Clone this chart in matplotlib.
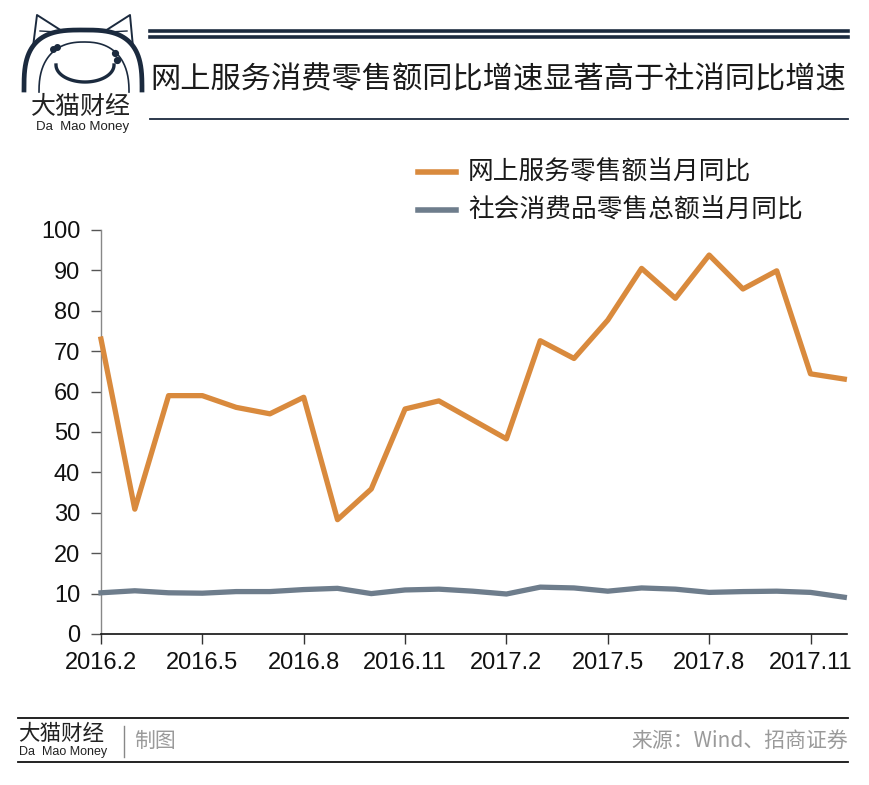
import numpy as np
import matplotlib
matplotlib.use("Agg")
import matplotlib.pyplot as plt

plt.rcParams['font.family'] = ['Noto Sans CJK SC', 'DejaVu Sans']

# ---------------- data ----------------
months = ["2016.2", "2016.3", "2016.4", "2016.5", "2016.6", "2016.7", "2016.8",
          "2016.9", "2016.10", "2016.11", "2016.12", "2017.1", "2017.2", "2017.3",
          "2017.4", "2017.5", "2017.6", "2017.7", "2017.8", "2017.9", "2017.10",
          "2017.11", "2017.12"]
online_service = [73.0, 30.9, 59.0, 59.0, 56.1, 54.5, 58.6, 28.3, 35.9, 55.7,
                  57.7, 53.0, 48.3, 72.6, 68.2, 77.7, 90.5, 83.1, 93.8, 85.4,
                  89.9, 64.4, 63.1]
retail_total = [10.2, 10.7, 10.2, 10.1, 10.5, 10.5, 11.0, 11.3, 10.0, 10.9,
                11.1, 10.6, 9.9, 11.6, 11.4, 10.6, 11.4, 11.1, 10.3, 10.5,
                10.6, 10.3, 9.1]
series_names = ["网上服务零售额当月同比", "社会消费品零售总额当月同比"]
title = "网上服务消费零售额同比增速显著高于社消同比增速"
yticks = [0, 10, 20, 30, 40, 50, 60, 70, 80, 90, 100]

ORANGE = "#D98A3D"
SLATE = "#6E7D8C"
NAVY = "#1B2A3E"

W, H = 870, 785
fig = plt.figure(figsize=(W / 100, H / 100), dpi=100)
fig.patch.set_facecolor("white")

# ---------------- main axes ----------------
L, R, T, B = 101, 847, 230, 634
ax = fig.add_axes([L / W, 1 - B / H, (R - L) / W, (B - T) / H])
x = np.arange(len(months))
ax.plot(x, online_service, color=ORANGE, lw=3.8, clip_on=False, zorder=3)
ax.plot(x, retail_total, color=SLATE, lw=3.8, clip_on=False, zorder=3)
ax.set_xlim(0, len(months) - 1 + 0.08)
ax.set_ylim(0, 100)
ax.set_yticks(yticks)
ax.set_xticks(x[::3])
ax.set_xticklabels(months[::3])
for s in ["top", "right"]:
    ax.spines[s].set_visible(False)
ax.spines["left"].set_color("#888888")
ax.spines["left"].set_linewidth(1.0)
ax.spines["bottom"].set_color("#111111")
ax.spines["bottom"].set_linewidth(1.2)
ax.tick_params(axis="y", length=7, width=1.0, color="#555555", pad=8,
               labelsize=17, labelcolor="#111111")
ax.tick_params(axis="x", length=7, width=1.0, color="#333333", pad=6,
               labelsize=17, labelcolor="#111111")
for lab in ax.get_xticklabels() + ax.get_yticklabels():
    lab.set_family(["Liberation Sans", "DejaVu Sans"])

# ---------------- overlay for decorations (pixel coords) ----------------
ov = fig.add_axes([0, 0, 1, 1], zorder=-1)
ov.set_xlim(0, W)
ov.set_ylim(H, 0)
ov.axis("off")

# header lines + title
ov.plot([150, 848], [31, 31], color=NAVY, lw=2.6)
ov.plot([150, 848], [37, 37], color=NAVY, lw=2.6)
ov.plot([150, 848], [119, 119], color=NAVY, lw=1.3)
ttl = fig.text(150 / W, 1 - 80 / H, title, fontsize=22, color="#1a1a1a",
               ha="left", va="center")
fig.canvas.draw()
wpx = ttl.get_window_extent().width
ttl.set_fontsize(22 * 694 / wpx)


def dome(cx, cy, rx, ry, n):
    tt = np.linspace(np.pi, 0, 160)
    c, s = np.cos(tt), np.sin(tt)
    return (cx + rx * np.sign(c) * np.abs(c) ** (2 / n),
            cy - ry * np.abs(s) ** (2 / n))


# logo
hx, hy = dome(83, 90, 59, 60, 3.0)
ov.plot(hx, hy, color=NAVY, lw=3.4)
ix, iy = dome(84, 92, 45, 50, 2.4)
ov.plot(ix, iy, color=NAVY, lw=1.2)
ov.plot([33, 37, 62], [47, 15, 31], color=NAVY, lw=1.4)
ov.plot([40, 58], [31, 32], color=NAVY, lw=1.0)
ov.plot([105, 130, 133], [31, 15, 47], color=NAVY, lw=1.4)
ov.plot([109, 127], [32, 31], color=NAVY, lw=1.0)
t3 = np.linspace(np.pi, 2 * np.pi, 60)
ov.plot(85 + 29 * np.cos(t3), 65 - 17 * np.sin(t3), color=NAVY, lw=2.4)
ov.plot([53, 57], [49, 47], "o", color=NAVY, ms=4)
ov.plot([115, 117], [53, 60], "o", color=NAVY, ms=4.2)
fig.text(81 / W, 1 - 107 / H, "大猫财经", fontsize=18, color="#222222",
         ha="center", va="center")
fig.text(83 / W, 1 - 127 / H, "Da  Mao Money", fontsize=9.5, color="#222222",
         ha="center", va="center", family=["Liberation Sans", "DejaVu Sans"])

# legend
ov.plot([418, 456], [172, 172], color=ORANGE, lw=4)
ov.plot([418, 456], [210, 210], color=SLATE, lw=4)
fig.text(468 / W, 1 - 172 / H, series_names[0], fontsize=18.5, color="#1a1a1a",
         ha="left", va="center")
fig.text(468 / W, 1 - 210 / H, series_names[1], fontsize=18.5, color="#1a1a1a",
         ha="left", va="center")

# footer
ov.plot([18, 848], [718, 718], color="#111111", lw=1.3)
ov.plot([18, 848], [762, 762], color="#111111", lw=1.3)
ov.plot([124, 124], [726, 757], color="#888888", lw=1.0)
fig.text(18 / W, 1 - 734 / H, "大猫财经", fontsize=15.5, color="#222222",
         ha="left", va="center")
fig.text(19 / W, 1 - 752 / H, "Da  Mao Money", fontsize=9, color="#222222",
         ha="left", va="center", family=["Liberation Sans", "DejaVu Sans"])
fig.text(134 / W, 1 - 741 / H, "制图", fontsize=15, color="#9a9a9a",
         ha="left", va="center")
fig.text(848 / W, 1 - 741 / H, "来源：Wind、招商证券", fontsize=15, color="#9a9a9a",
         ha="right", va="center")

fig.savefig("out.png", dpi=100, facecolor="white")
